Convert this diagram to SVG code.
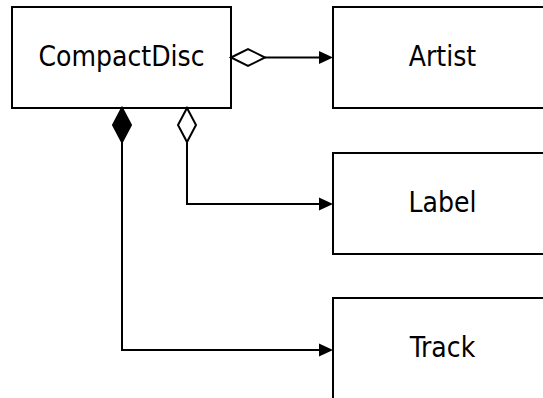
<svg xmlns="http://www.w3.org/2000/svg" width="543" height="398" viewBox="0 0 543 398">
<defs>
<style>
.box{fill:#fff;stroke:#000;stroke-width:2}
.txt{font-family:"DejaVu Sans Condensed","DejaVu Sans",sans-serif;font-stretch:condensed;font-size:28px;fill:#000;text-anchor:middle}
.ln{fill:none;stroke:#000;stroke-width:2}
.od{fill:#fff;stroke:#000;stroke-width:2}
.fd{fill:#000;stroke:#000;stroke-width:2}
.ah{fill:#000;stroke:none}
</style>
</defs>
<rect width="543" height="398" fill="#fff"/>
<g id="CompactDisc"><rect class="box" x="12" y="7" width="219" height="101"/><text class="txt" x="121.5" y="66">CompactDisc</text></g>
<g id="Artist"><rect class="box" x="333" y="7" width="219" height="101"/><text class="txt" x="442.5" y="66">Artist</text></g>
<g id="Label"><rect class="box" x="333" y="153" width="219" height="101"/><text class="txt" x="442.5" y="212">Label</text></g>
<g id="Track"><rect class="box" x="333" y="298" width="219" height="101"/><text class="txt" x="442.5" y="357">Track</text></g>
<g id="connectors">
<path class="ln" d="M265 57.5H322"/>
<polygon class="od" points="231,57.5 248,49 265,57.5 248,66"/>
<polygon class="ah" points="333,57.5 319,51 319,64"/>
<path class="ln" d="M187 142V204H322"/>
<polygon class="od" points="187,108 196,125 187,142 178,125"/>
<polygon class="ah" points="333,204 319,197.5 319,210.5"/>
<path class="ln" d="M122 142V350H322"/>
<polygon class="fd" points="122,108 131,125 122,142 113,125"/>
<polygon class="ah" points="333,350 319,343.5 319,356.5"/>
</g>
</svg>
